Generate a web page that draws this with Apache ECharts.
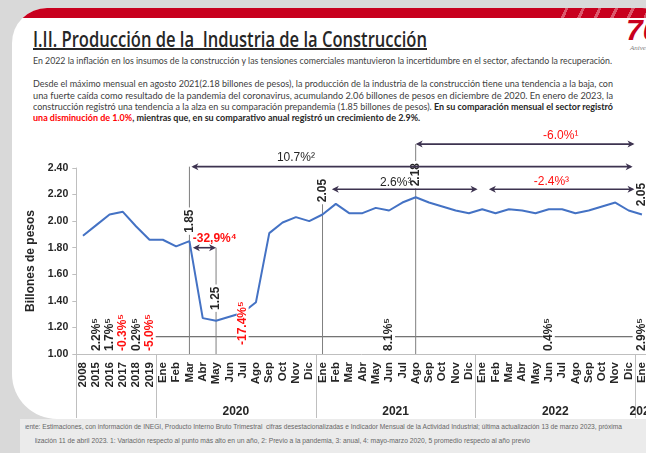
<!DOCTYPE html>
<html>
<head>
<meta charset="utf-8">
<script src="https://cdn.jsdelivr.net/npm/echarts@6/dist/echarts.min.js"></script>
<style>
  html, body { margin: 0; padding: 0; width: 646px; height: 453px; overflow: hidden; background: #d9d9d9; }
  #card { position: absolute; left: 12px; top: 8px; width: 660px; height: 411px; background: #fff;
          border-radius: 35px 30px 0 45px; overflow: hidden; }
  #band { position: absolute; left: 0; top: 0; width: 100%; height: 10px; background: #c8001e; }
  #stripes { position: absolute; left: 540px; top: 0; width: 120px; height: 10px;
             background: repeating-linear-gradient(115deg, transparent 0 12px, rgba(255,255,255,.35) 12px 15px); }
  #footer { position: absolute; left: 20px; top: 419px; width: 640px; height: 34px; background: #ebebeb; }
  .txt { position: absolute; white-space: nowrap; transform-origin: 0 0; font-family: 'Lato', 'Liberation Sans', sans-serif; }
  .clip { position: absolute; overflow: hidden; height: 12px; }
  #title { left: 33px; top: 26px; font-size: 22px; line-height: 24px; color: #262626; font-family: 'Open Sans', sans-serif;
           font-weight: 600; text-decoration: underline; text-decoration-thickness: 2px; }
  .para { font-size: 8.5px; line-height: 10px; color: #404040; }
  .para b { color: #262626; }
  .para .red { color: #ff0000; font-weight: bold; }
  .foot { font-size: 6.3px; line-height: 12px; color: #666; font-family: 'Liberation Sans', sans-serif; font-weight: normal; }
  #logo7 { left: 626px; top: 14px; font-size: 30px; line-height: 32px; color: #c8001e; font-weight: bold; font-style: italic; font-family: 'Liberation Sans', sans-serif; }
  #logoTxt { left: 630px; top: 44px; font-size: 7px; line-height: 8px; color: #7f7f7f; font-style: italic; font-family: 'Liberation Serif', serif; }
  #chart { position: absolute; left: 0; top: 0; width: 646px; height: 453px; }
</style>
</head>
<body>
<div id="card"><div id="band"></div><div id="stripes"></div></div>
<div id="footer"></div>
<div class="txt" id="logo7">70</div>
<div class="txt" id="logoTxt">Aniversario</div>

<div class="txt" id="title">I.II. Producción de la&nbsp; Industria de la Construcción</div>

<div class="txt para fit" data-w="579" style="left:33px; top:56px">En 2022 la inflación en los insumos de la construcción y las tensiones comerciales mantuvieron la incertidumbre en el sector, afectando la recuperación.</div>
<div class="txt para fit" data-w="580" style="left:33px; top:79px">Desde el máximo mensual en agosto 2021(2.18 billones de pesos), la producción de la industria de la construcción tiene una tendencia a la baja, con</div>
<div class="txt para fit" data-w="580" style="left:33px; top:91px">una fuerte caída como resultado de la pandemia del coronavirus, acumulando 2.06 billones de pesos en diciembre de 2020. En enero de 2023, la</div>
<div class="txt para fit" data-w="580" style="left:33px; top:102px">construcción registró una tendencia a la alza en su comparación prepandemia (1.85 billones de pesos). <b>En su comparación mensual el sector registró</b></div>
<div class="txt para" id="lastLine" style="left:33px; top:113px"><span class="red">una disminución de 1.0%</span><b>, mientras que, en su comparativo anual registró un crecimiento de 2.9%.</b></div>

<div class="clip" style="left:25px; top:421px; width:621px"><div class="txt foot fit" data-w="604" style="left:-7px; top:0">Fuente: Estimaciones, con información de INEGI, Producto Interno Bruto Trimestral&nbsp; cifras desestacionalizadas e Indicador Mensual de la Actividad Industrial; última actualización 13 de marzo 2023, próxima</div></div>
<div class="clip" style="left:35px; top:435px; width:611px"><div class="txt foot fit" data-w="512" style="left:-17px; top:0">actualización 11 de abril 2023. 1: Variación respecto al punto más alto en un año, 2: Previo a la pandemia, 3: anual, 4: mayo-marzo 2020, 5 promedio respecto al año previo</div></div>

<div id="chart"></div>

<script>
// --- slide text: stretch each line to the width it has in the slide
let scales = [];
document.querySelectorAll('.fit').forEach(function (el) {
  const w = el.getBoundingClientRect().width;
  const s = Number(el.dataset.w) / w;
  el.style.transform = 'scaleX(' + s + ')';
  if (el.classList.contains('para')) scales.push(s);
});
(function () {
  const t = document.getElementById('title');
  t.style.transform = 'scaleX(' + (394 / t.getBoundingClientRect().width) + ')';
  const avg = scales.reduce((a, b) => a + b, 0) / scales.length;
  document.getElementById('lastLine').style.transform = 'scaleX(' + avg + ')';
})();

// --- chart data
const months = ['Ene', 'Feb', 'Mar', 'Abr', 'May', 'Jun', 'Jul', 'Ago', 'Sep', 'Oct', 'Nov', 'Dic'];
const categories = ['2008', '2015', '2016', '2017', '2018', '2019']
  .concat(months, months, months, ['Ene']);

// billones de pesos
const production = [
  1.89, 1.97, 2.05, 2.07, 1.96, 1.86,
  1.86, 1.81, 1.85, 1.27, 1.25, 1.28, 1.31, 1.39, 1.91, 1.99, 2.03, 2.00,
  2.05, 2.13, 2.06, 2.06, 2.10, 2.08, 2.14, 2.18, 2.14, 2.11, 2.08, 2.06,
  2.09, 2.06, 2.09, 2.08, 2.06, 2.09, 2.09, 2.06, 2.08, 2.11, 2.14, 2.08,
  2.05
];

const yearNames = ['2020', '2021', '2022', '2023'];
const yearLabelAt = [11, 23, 35, 42];
const yearStartAt = [0, 6, 18, 30, 42];

// double arrows (positions in category units)
const arrowFrom = [8.15, 25.0, 18.7, 30.5, 8.26];
const arrowTo = [41.3, 41.44, 29.65, 41.44, 10.0];
const arrowLevel = [2.41, 2.58, 2.24, 2.24, 1.80];
const arrowText = ['10.7%²', '-6.0%¹', '2.6%³', '-2.4%³', '-32,9%⁴'];
const arrowTextAt = [16.0, 35.9, 23.5, 35.2, 9.9];
const arrowTextLevel = [2.478, 2.64, 2.29, 2.30, 1.865];

// reference values written vertically
const refAt = [8, 10, 18, 25, 42];
const refText = ['1.85', '1.25', '2.05', '2.18', '2.05'];
const refTop = [2.41, 1.80, 2.20, 2.58, null];
const refTextLevel = [2.0, 1.42, 2.23, 2.35, 2.20];

// average annual change
const avgAt = [1, 2, 3, 4, 5, 12, 23, 35, 42];
const avgText = ['2.2%⁵', '1.7%⁵', '-0.3%⁵', '0.2%⁵', '-5.0%⁵', '-17.4%⁵', '8.1%⁵', '0.4%⁵', '2.9%⁵'];
const avgBase = [1.015, 1.015, 1.015, 1.015, 1.015, 1.06, 1.015, 1.015, 1.015];
const avgLineFrom = 5.45;
const avgLineTo = 41.3;
const avgLineLevel = 1.13;

const FONT = "'Liberation Sans', Arial, sans-serif";
const ARROW = '#3d3350';
const RED = '#ff1010';
const DARK = '#262626';

function xAt(api, pos) {
  const base = Math.floor(pos);
  return api.coord([base, 1])[0] + (pos - base) * api.size([1, 0])[0];
}
function yAt(api, v) {
  return api.coord([0, v])[1];
}

const chart = echarts.init(document.getElementById('chart'));

chart.setOption({
  animation: false,
  grid: { left: 76.3, top: 168, width: 572.3, height: 186, outerBoundsMode: 'none' },
  xAxis: [{
    type: 'category',
    data: categories,
    axisLine: { onZero: false, lineStyle: { color: '#bfbfbf' } },
    axisTick: { show: false },
    axisLabel: {
      interval: 0, rotate: 90, margin: 8,
      color: DARK, fontFamily: FONT, fontWeight: 'bold', fontSize: 11.5
    }
  }, {
    type: 'category',
    data: categories,
    position: 'bottom',
    axisLine: { show: false },
    axisTick: {
      show: true, length: 64,
      interval: (i) => yearStartAt.includes(i),
      lineStyle: { color: '#bfbfbf' }
    },
    axisLabel: {
      margin: 52,
      interval: (i) => yearLabelAt.includes(i),
      formatter: (v, i) => {
        const k = yearLabelAt.indexOf(i);
        return k < 0 ? '' : (k < 3 ? '{a|' + yearNames[k] + '}' : '{b|' + yearNames[k] + '}');
      },
      rich: {
        a: { padding: [0, 0, 0, 13], color: DARK, fontFamily: FONT, fontWeight: 'bold', fontSize: 12 },
        b: { padding: [0, 0, 0, 2], color: DARK, fontFamily: FONT, fontWeight: 'bold', fontSize: 12 }
      }
    }
  }],
  yAxis: {
    type: 'value',
    min: 1, max: 2.4, interval: 0.2,
    name: 'Billones de pesos',
    nameLocation: 'middle',
    nameGap: 28,
    nameRotate: 90,
    nameTextStyle: { color: DARK, fontFamily: FONT, fontWeight: 'bold', fontSize: 12 },
    axisLine: { show: true, lineStyle: { color: '#bfbfbf' } },
    axisTick: { show: true, length: 4, lineStyle: { color: '#bfbfbf' } },
    splitLine: { show: false },
    axisLabel: {
      margin: 8, formatter: (v) => v.toFixed(2),
      color: DARK, fontFamily: FONT, fontWeight: 'bold', fontSize: 10.5
    }
  },
  series: [{
    type: 'custom',
    name: 'promedio',
    silent: true,
    data: [[Math.round(avgLineFrom), avgLineLevel]],
    renderItem: function (params, api) {
      const y = yAt(api, avgLineLevel);
      return {
        type: 'line',
        shape: { x1: xAt(api, avgLineFrom), y1: y, x2: xAt(api, avgLineTo), y2: y },
        style: { stroke: '#4d4d4d', lineWidth: 1 }
      };
    }
  }, {
    type: 'custom',
    name: 'referencias',
    silent: true,
    z: 3,
    data: refAt.map((x, i) => [x, refTextLevel[i]]),
    renderItem: function (params, api) {
      const i = params.dataIndex;
      const x = xAt(api, refAt[i]);
      const children = [];
      if (refTop[i] != null) {
        children.push({
          type: 'line',
          shape: { x1: x, y1: yAt(api, 1), x2: x, y2: yAt(api, refTop[i]) },
          style: { stroke: '#7f7f7f', lineWidth: 1 }
        });
      }
      children.push({
        type: 'text',
        x: x, y: yAt(api, refTextLevel[i]), rotation: Math.PI / 2,
        style: {
          text: refText[i], fill: DARK, fontFamily: FONT, fontWeight: 'bold', fontSize: 12,
          align: 'center', verticalAlign: 'middle', backgroundColor: '#fff', padding: [0, 2]
        }
      });
      return { type: 'group', children: children };
    }
  }, {
    type: 'line',
    name: 'Producción',
    data: production,
    showSymbol: false,
    z: 4,
    color: '#4472c4',
    lineStyle: { color: '#4472c4', width: 2 }
  }, {
    type: 'custom',
    name: 'variaciones',
    silent: true,
    z: 5,
    data: arrowFrom.map((x, i) => [Math.round(x), arrowLevel[i]]),
    renderItem: function (params, api) {
      const i = params.dataIndex;
      const x1 = xAt(api, arrowFrom[i]);
      const x2 = xAt(api, arrowTo[i]);
      const y = yAt(api, arrowLevel[i]);
      const red = arrowText[i].charAt(0) === '-';
      return {
        type: 'group',
        children: [{
          type: 'line',
          shape: { x1: x1 + 2, y1: y, x2: x2 - 2, y2: y },
          style: { stroke: ARROW, lineWidth: 1.6 }
        }, {
          type: 'polygon',
          shape: { points: [[x1, y], [x1 + 7, y - 3.5], [x1 + 5, y], [x1 + 7, y + 3.5]] },
          style: { fill: ARROW }
        }, {
          type: 'polygon',
          shape: { points: [[x2, y], [x2 - 7, y - 3.5], [x2 - 5, y], [x2 - 7, y + 3.5]] },
          style: { fill: ARROW }
        }, {
          type: 'text',
          x: xAt(api, arrowTextAt[i]), y: yAt(api, arrowTextLevel[i]),
          style: {
            text: arrowText[i], fill: red ? RED : DARK, fontFamily: FONT,
            fontWeight: i === 4 ? 'bold' : 'normal', fontSize: 12,
            align: 'center', verticalAlign: 'middle'
          }
        }]
      };
    }
  }, {
    type: 'custom',
    name: 'promedios',
    silent: true,
    z: 6,
    data: avgAt.map((x, i) => [x, avgBase[i]]),
    renderItem: function (params, api) {
      const i = params.dataIndex;
      const red = avgText[i].charAt(0) === '-';
      return {
        type: 'text',
        x: xAt(api, avgAt[i]), y: yAt(api, avgBase[i]), rotation: Math.PI / 2,
        style: {
          text: avgText[i], fill: red ? RED : DARK, fontFamily: FONT, fontWeight: 'bold', fontSize: 12,
          align: 'left', verticalAlign: 'middle', backgroundColor: '#fff', padding: [0, 1]
        }
      };
    }
  }]
});
</script>
</body>
</html>
